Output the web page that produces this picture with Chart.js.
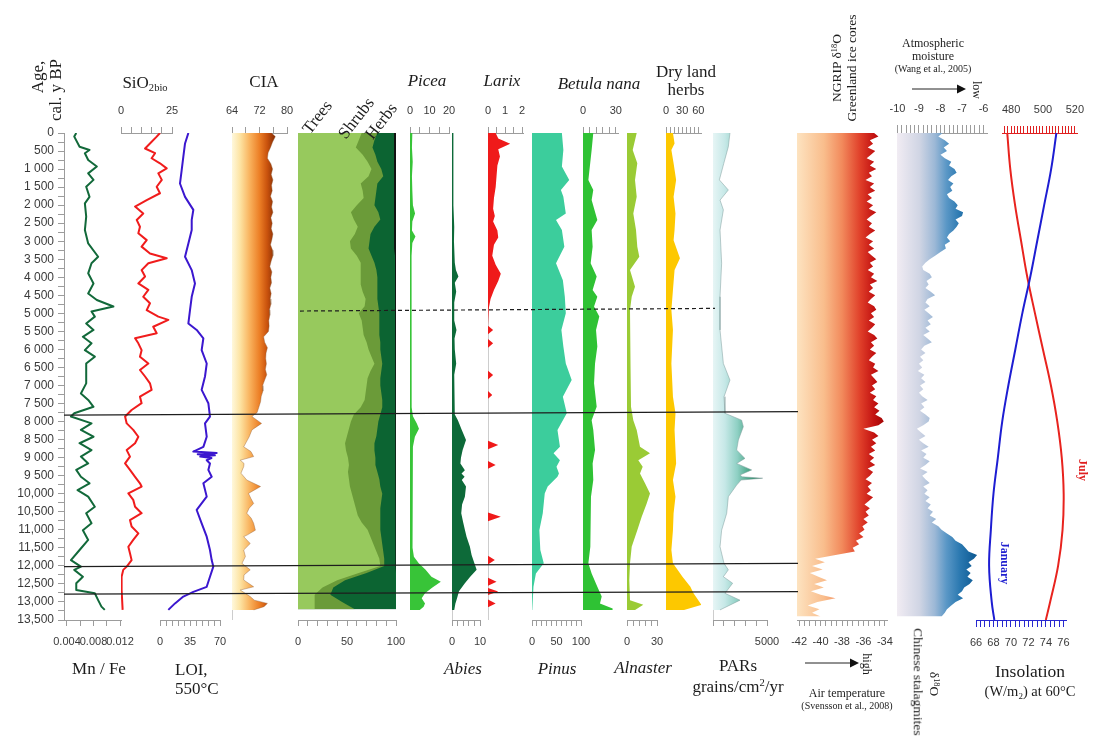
<!DOCTYPE html>
<html lang="en">
<head>
<meta charset="utf-8">
<title>Lake sediment, pollen and palaeoclimate records, 0–13.5 ka</title>
<script src="https://cdn.jsdelivr.net/npm/chart.js@4.4.1/dist/chart.umd.min.js"></script>
<style>
  html, body { margin: 0; padding: 0; background: #fff; }
  #stage { position: relative; width: 1093px; height: 738px; overflow: hidden; background: #fff; }
  #stage canvas { position: absolute; left: 0; top: 0; }
  .lbl { position: absolute; white-space: nowrap; line-height: 1; color: #1c1c1c;
         font-family: "Liberation Serif", "Times New Roman", serif; }
  .lbl sub { font-size: 0.62em; vertical-align: -0.35em; line-height: 0; }
  .lbl sup { font-size: 0.62em; vertical-align: 0.55em; line-height: 0; }
  svg.marks { position: absolute; left: 0; top: 0; }
</style>
</head>
<body>
<div id="stage"></div>
<script>
// ---------------------------------------------------------------------------
// Records (ages in cal. yr BP)
// ---------------------------------------------------------------------------
const MNFE_AGE = [0,100,380,470,560,750,930,1120,1300,1490,1770,1950,2320,2690,3060,3430,3610,3890,4170,4450,4630,4810,4950,5090,5280,5460,5650,5830,6020,6200,6390,6570,6940,7220,7400,7590,7770,7860,8050,8230,8420,8600,8790,8970,9160,9340,9530,9710,9900,10080,10360,10540,10820,11010,11280,11560,11840,12020,12110,12300,12480,12670,12760,12950,13130,13220];
const MNFE = [0.0054,0.0051,0.0059,0.0074,0.0067,0.0072,0.0085,0.0072,0.0080,0.0069,0.0074,0.0067,0.0069,0.0067,0.0072,0.0087,0.0077,0.0072,0.0080,0.0072,0.0085,0.0110,0.0077,0.0082,0.0069,0.0080,0.0064,0.0077,0.0067,0.0082,0.0069,0.0069,0.0069,0.0061,0.0072,0.0080,0.0051,0.0046,0.0077,0.0061,0.0080,0.0059,0.0077,0.0061,0.0072,0.0054,0.0061,0.0074,0.0056,0.0072,0.0082,0.0069,0.0077,0.0064,0.0072,0.0059,0.0046,0.0061,0.0051,0.0064,0.0054,0.0054,0.0082,0.0087,0.0092,0.0097];

const SIO2_AGE = [0,100,290,430,560,700,840,980,1120,1300,1490,1670,1860,2040,2230,2410,2600,2780,2970,3150,3340,3470,3610,3800,3980,4170,4350,4540,4720,4910,5090,5180,5370,5550,5690,5830,6020,6200,6390,6570,6750,6940,7120,7310,7490,7680,7860,8050,8230,8420,8600,8790,8970,9160,9340,9530,9710,9800,9990,10170,10360,10540,10730,10910,11100,11280,11470,11650,11840,12020,12110,12300,12670,13220];
const SIO2 = [19.1,17.5,14.2,11.8,16.7,15.0,19.1,22.4,18.3,20.0,17.5,19.1,12.6,6.9,10.9,7.7,9.3,8.5,12.6,10.1,14.2,22.4,13.4,10.1,11.8,8.5,13.4,10.9,14.2,12.6,18.3,23.2,15.8,17.5,6.9,8.5,10.1,9.3,13.4,9.3,11.8,14.2,15.0,9.3,10.1,5.2,2.0,2.8,6.0,8.5,6.9,2.8,4.4,2.0,4.4,6.9,9.3,10.1,3.6,6.0,6.9,10.1,4.4,5.2,8.5,6.0,3.6,4.4,5.2,2.8,1.1,0.3,0.3,0.8];

const LOI_AGE = [0,290,660,1030,1400,1770,2130,2410,2690,3060,3430,3800,4170,4540,4910,5280,5460,5690,6020,6390,6750,7120,7490,7860,8050,8420,8700,8830,8870,8905,8935,8970,9010,9070,9160,9340,9530,9710,10080,10450,10820,11190,11560,11840,12020,12300,12580,12720,12850,13040,13220];
const LOI = [33.1,29.2,27.2,25.3,23.3,29.2,38.9,37.0,37.0,33.1,29.2,37.0,40.8,37.0,35.0,33.1,42.8,50.6,48.6,54.5,52.5,48.6,56.4,58.3,52.5,54.5,50.6,38.9,66.1,44.0,64.0,47.0,60.0,54.5,58.3,56.4,60.3,50.6,54.5,42.8,48.6,54.5,58.3,60.3,62.2,58.3,54.5,38.9,27.2,17.5,9.7];

const CIA_AGE = [0,100,250,400,550,700,850,1000,1150,1300,1450,1600,1750,1900,2050,2200,2350,2500,2650,2800,2950,3100,3250,3400,3550,3700,3850,4000,4150,4300,4450,4600,4750,4900,5050,5200,5350,5500,5650,5800,5950,6100,6250,6400,6550,6700,6850,7000,7150,7300,7450,7600,7750,7860,8050,8230,8420,8700,8830,8970,9070,9160,9250,9430,9620,9800,9990,10130,10270,10400,10540,10680,10820,11010,11140,11190,11380,11560,11740,11930,12110,12250,12390,12580,12670,12850,12950,13040,13130,13220];
const CIA = [75.5,76.6,75.8,75.2,74.5,74.3,75.3,75.8,75.4,75.9,75.5,75.7,75.2,75.8,75.5,75.9,75.3,75.7,75.4,75.9,75.6,75.2,75.8,75.9,75.4,75.0,75.6,75.3,75.5,75.0,75.4,75.1,75.3,74.9,75.0,74.7,74.8,74.6,73.2,73.5,74.3,73.9,73.8,74.0,73.7,74.1,73.5,72.9,73.0,72.5,72.3,71.8,71.3,69.8,72.6,69.8,69.0,67.4,69.5,70.3,66.4,67.5,67.4,66.6,68.3,72.3,68.8,69.5,70.3,69.0,68.3,69.6,70.3,70.8,68.5,67.4,69.3,67.4,67.9,66.9,69.3,67.5,67.4,70.3,66.4,69.3,70.5,74.3,73.3,70.3];

// Pollen groups, % of total pollen
const GROUP_AGE = [0,200,400,600,800,1000,1200,1400,1600,1800,2000,2200,2400,2600,2800,3000,3200,3400,3600,3800,4000,4200,4400,4600,4800,5000,5200,5400,5600,5800,6000,6200,6400,6600,6800,7000,7200,7400,7600,7800,8000,8200,8400,8600,8800,9000,9200,9400,9600,9800,10000,10200,10400,10600,10800,11000,11200,11400,11600,11800,12000,12200,12400,12600,12800,13000,13200];
const TREES = [65,62,59,66,71,75,72,64,66,67,60,54,57,61,58,53,54,60,64,64,64,64,66,69,68,62,65,66,67,70,72,75,78,74,71,70,69,68,64,57,54,52,50,48,49,51,52,51,52,53,55,57,59,61,65,71,74,77,80,83,84,62,40,25,17,17,17];
const SHRUBS = [16,16,17,13,10,10,15,17,14,12,18,28,27,17,16,20,18,15,14,16,17,17,15,12,14,21,18,17,16,14,12,10,8,11,13,14,16,18,22,27,28,29,30,30,29,28,27,30,31,31,31,28,25,23,19,13,11,9,7,5,4,8,8,11,16,28,41];
const OTHER = [2,2,2,2,2,2,2,2,2,2,2,2,2,2,2,1.5,1.5,1,1,1,1,1,0.5,0.5,0.5,0.5,0.5,0.5,0.5,0.5,0.5,0.5,0.5,0.5,0.5,0.5,0.5,0.5,0.5,0.5,0.5,0.5,0.5,0.5,0.5,0.5,0.5,0.5,0.5,0.5,0.5,0.5,0.5,0.5,0.5,0.5,0.5,0.5,0.5,0.5,0.3,0,0,0,0,0,0];

// Individual taxa, %
const PICEA_AGE = [0,400,800,1200,1600,2000,2230,2450,2700,2870,3050,3400,4000,5000,6000,7000,7600,7850,8050,8200,8420,8700,9200,10000,11000,11500,11750,11930,12110,12300,12440,12600,12760,12900,13040,13130,13220];
const PICEA = [1.2,1.0,1.4,1.0,1.2,1.5,2.6,1.2,1.0,2.8,1.2,0.8,0.9,0.8,0.9,0.8,0.9,1.5,3.5,4.6,2.5,1.5,1.2,1.3,1.2,1.5,2.0,4.5,8.0,11.0,15.8,11.5,7.7,6.0,7.7,7.0,5.0];

const ABIES_AGE = [0,1000,2000,2600,3000,3600,3800,3980,4150,4400,4700,5200,5460,5700,6000,6400,6700,7300,7800,7960,8230,8510,8700,8790,9000,9160,9350,9440,9530,9620,9800,10080,10300,10540,10800,11000,11190,11470,11700,11930,12110,12300,12480,12700,12900,13050,13220];
const ABIES = [0.5,0.5,0.5,0.8,0.7,1.0,1.4,2.3,1.0,1.5,0.8,0.8,1.6,0.9,1.0,1.5,0.8,1.0,1.0,2.1,3.5,5.0,4.2,3.8,3.2,3.0,4.6,3.4,4.5,3.5,5.0,4.6,3.6,3.3,4.0,4.6,5.2,6.4,7.0,8.0,8.8,6.5,4.6,2.5,1.8,1.2,0.8];

const LARIX_AGE = [0,150,300,450,650,900,1200,1500,1800,2100,2300,2450,2700,2900,3100,3400,3650,3900,4100,4350,4600,4850,4950,5340,5460,5580,5710,5830,5950,6590,6710,6830,7150,7260,7370,8530,8650,8770,9090,9200,9310,10520,10640,10760,11720,11840,11960,12330,12440,12550,12610,12710,12810,12930,13040,13150];
const LARIX = [0.45,0.6,1.3,0.6,0.7,0.55,0.5,0.45,0.35,0.3,0.4,0.3,0.55,0.6,0.35,0.25,0.45,0.75,0.6,0.35,0.15,0.05,0,0,0.3,0,0,0.3,0,0,0.3,0,0,0.25,0,0,0.6,0,0,0.45,0,0,0.75,0,0,0.4,0,0,0.5,0,0,0.6,0,0,0.45,0];

const PINUS_AGE = [0,470,930,1300,1580,1770,2230,2410,2690,3150,3610,4080,4540,5000,5460,5920,6390,6850,7310,7770,8230,8700,8880,9070,9250,9440,9530,9800,9990,10540,11010,11560,11930,12210,12580,13220];
const PINUS = [61,64,61,76,59,64,69,49,61,66,49,63,67,69,60,64,69,81,63,71,52,57,44,57,50,55,52,32,26,22,15,17,24,8,3,0.6];

const BETULA_AGE = [0,470,1300,1580,1860,2410,2690,3150,3610,3980,4350,4540,4810,5090,5460,5920,6390,6940,7590,7960,8230,8790,9160,9620,10080,11010,11470,11930,12210,12580,12850,13040,13180,13220];
const BETULA = [9.4,7.9,4.9,9.4,7.9,13.1,7.9,8.8,7.0,12.5,8.8,13.1,10.1,14.9,11.9,13.1,11.0,10.1,12.5,7.9,9.4,11.0,8.8,9.4,7.3,6.4,7.0,4.9,7.9,13.1,17.1,15.5,27.1,27.0];

const ALNASTER_AGE = [0,470,840,1300,1770,2230,2690,3150,3430,3800,4260,4540,4910,5460,6390,7590,7960,8230,8700,8880,9070,9250,9440,9710,9990,10270,10640,11010,11470,11930,12390,12950,13080,13220];
const ALNASTER = [9.7,5.7,10.3,8.0,9.7,6.3,9.0,10.3,12.3,3.0,8.0,4.7,3.0,3.5,3.5,4.0,6.3,9.7,13.0,23.0,11.3,15.7,13.0,18.0,23.0,19.7,14.7,10.3,4.7,3.0,2.3,3.0,16.3,8.0];

const DRYHERBS_AGE = [0,290,470,840,1300,1770,2230,2690,2970,3470,3800,4350,4910,5460,6390,7310,7770,8230,9160,9620,10080,10540,11010,11560,11930,12300,12580,12760,12950,13080,13220];
const DRYHERBS = [12.9,15.9,10,14.1,18.8,14.1,17.6,15.9,14.1,25.9,15.9,12.9,10,12.9,10,12.9,17.6,15.9,18.8,12.9,17.6,14.1,12.9,10,12.9,30.6,45.3,51.1,60,65.8,33.5];

// Pollen accumulation rates, grains/cm2/yr
const PARS_AGE = [0,380,840,1300,1580,1860,2130,2690,3610,4540,5460,6390,6850,7310,7770,7960,8140,8510,8790,9020,9160,9340,9480,9530,9570,9620,9760,10080,10540,11010,11470,11930,12110,12300,12480,12760,12950,13220];
const PARS = [1570,1420,1000,590,1420,650,960,650,800,650,650,960,1570,1020,1110,2650,2810,2350,2190,2960,2190,3580,2500,2700,4600,2600,2190,1420,1270,800,650,1020,1420,960,1820,1110,2500,650];

// Ice-core and speleothem records, 100-yr resolution
const RECORD_AGE = [0,100,200,300,400,500,600,700,800,900,1000,1100,1200,1300,1400,1500,1600,1700,1800,1900,2000,2100,2200,2300,2400,2500,2600,2700,2800,2900,3000,3100,3200,3300,3400,3500,3600,3700,3800,3900,4000,4100,4200,4300,4400,4500,4600,4700,4800,4900,5000,5100,5200,5300,5400,5500,5600,5700,5800,5900,6000,6100,6200,6300,6400,6500,6600,6700,6800,6900,7000,7100,7200,7300,7400,7500,7600,7700,7800,7900,8000,8100,8200,8300,8400,8500,8600,8700,8800,8900,9000,9100,9200,9300,9400,9500,9600,9700,9800,9900,10000,10100,10200,10300,10400,10500,10600,10700,10800,10900,11000,11100,11200,11300,11400,11500,11600,11700,11800,11900,12000,12100,12200,12300,12400,12500,12600,12700,12800,12900,13000,13100,13200,13300,13400];
const NGRIP_D18O = [-35.0,-34.6,-35.4,-35.1,-35.6,-34.9,-35.3,-35.7,-35.0,-35.4,-34.8,-35.5,-35.2,-35.8,-35.0,-35.4,-34.9,-35.6,-35.2,-35.7,-35.1,-35.5,-34.8,-35.3,-35.7,-35.2,-35.5,-34.9,-35.4,-35.8,-35.1,-35.5,-35.0,-35.6,-35.2,-34.8,-35.4,-35.1,-35.6,-35.0,-35.3,-34.7,-35.4,-35.1,-35.5,-34.9,-35.3,-35.6,-35.0,-34.8,-35.3,-35.0,-35.5,-34.9,-35.2,-35.6,-35.0,-34.7,-35.3,-35.0,-35.4,-34.8,-35.2,-35.5,-34.9,-35.1,-34.6,-35.3,-35.0,-34.7,-35.2,-34.9,-35.4,-34.8,-35.1,-34.6,-35.0,-34.5,-34.9,-34.3,-34.1,-34.6,-36.0,-35.0,-34.6,-35.2,-34.8,-35.3,-34.9,-35.5,-35.0,-35.4,-34.9,-35.6,-35.1,-35.4,-35.8,-35.2,-35.6,-35.3,-35.7,-35.1,-35.5,-35.9,-35.4,-35.8,-35.5,-36.0,-35.6,-36.1,-35.9,-36.4,-36.0,-36.7,-36.4,-37.0,-36.8,-38.6,-40.5,-39.6,-40.8,-39.8,-41.0,-40.2,-39.4,-40.6,-39.7,-40.9,-40.0,-38.6,-40.3,-41.2,-40.1,-40.8,-40.0];
const STALAGMITE_D18O = [-7.9,-8.1,-7.8,-7.6,-7.85,-7.7,-8.0,-7.8,-7.5,-7.6,-7.35,-7.25,-7.5,-7.65,-7.4,-7.55,-7.45,-7.7,-7.6,-7.35,-7.2,-7.3,-6.95,-7.0,-7.3,-7.15,-7.25,-7.4,-7.6,-7.7,-7.55,-7.8,-7.75,-8.0,-8.25,-8.5,-8.7,-8.85,-8.8,-8.5,-8.4,-8.65,-8.55,-8.7,-8.45,-8.25,-8.6,-8.7,-8.5,-8.75,-8.55,-8.35,-8.6,-8.45,-8.7,-8.5,-8.8,-8.6,-8.4,-8.75,-8.9,-8.7,-8.95,-8.8,-9.0,-8.85,-9.05,-8.75,-8.9,-8.7,-8.95,-8.8,-9.0,-8.85,-8.6,-8.9,-8.75,-8.95,-8.7,-8.5,-8.55,-8.8,-9.1,-8.9,-8.7,-9.0,-8.8,-8.55,-8.9,-8.65,-8.8,-8.5,-8.7,-8.95,-8.6,-8.85,-8.7,-8.5,-8.8,-8.6,-8.75,-8.5,-8.7,-8.45,-8.6,-8.35,-8.5,-8.2,-8.4,-8.1,-7.95,-7.7,-7.45,-7.3,-7.0,-6.85,-6.7,-6.3,-6.45,-6.7,-6.55,-6.8,-6.6,-6.75,-6.5,-6.65,-6.9,-7.0,-7.2,-6.95,-7.3,-7.5,-7.7,-7.8,-7.95];

// Insolation at 60°N, W/m2
const INSOLATION_AGE = [0,1000,2000,3000,4000,5000,6000,7000,8000,9000,10000,11000,12000,13000,13500];
const JULY = [477.6,479.5,482.5,486.3,490.2,495.0,500.0,505.0,509.0,511.8,513.0,512.3,509.5,504.5,501.8];
const JANUARY = [75.2,74.6,73.8,73.0,72.2,71.3,70.5,69.7,69.0,68.5,68.0,67.7,67.5,67.8,68.1];

// Zone boundaries (age at the left end, age at the right end)
const ZONE_BOUNDARIES = [[7820, 7725], [12020, 11930], [12780, 12715]];
const SUBZONE_BOUNDARY = [4935, 4862];

// ---------------------------------------------------------------------------
// Drawing
// ---------------------------------------------------------------------------
const SANS = '"Liberation Sans", Arial, sans-serif';
Chart.defaults.font.family = SANS;

const stage = document.getElementById('stage');
const W = 1093, H = 738, TOP = 133, BOTTOM = 620, AXIS_BOX = 40;

const pts = (ages, vals) => ages.map((a, i) => ({ x: vals[i], y: a }));
const round6 = v => Math.round(v * 1e6) / 1e6;
function stepTicks(from, to, step) {
  const out = [];
  const n = Math.round((to - from) / step);
  for (let i = 0; i <= n; i++) out.push({ value: round6(from + i * step) });
  return out;
}
function ageLabel(v) {
  if (v < 1000) return String(v);
  if (v < 10000) return Math.floor(v / 1000) + ' ' + String(v % 1000).padStart(3, '0');
  return v.toLocaleString('en-US');
}
function hGradient(stops) {
  return c => {
    const area = c.chart.chartArea;
    if (!area) return stops[stops.length - 1][1];
    const g = c.chart.ctx.createLinearGradient(area.left, 0, area.right, 0);
    stops.forEach(([p, col]) => g.addColorStop(p, col));
    return g;
  };
}
const curve = (ages, vals, color, width) => ({
  data: pts(ages, vals), borderColor: color, borderWidth: width, fill: false, pointRadius: 0
});
const area = (ages, vals, base, color, edge, order) => ({
  data: pts(ages, vals), backgroundColor: color,
  borderColor: edge || 'rgba(0,0,0,0)', borderWidth: edge ? 0.7 : 0,
  fill: { value: base }, pointRadius: 0, order: order || 0
});

function panel(o) {
  const cv = document.createElement('canvas');
  cv.width = W; cv.height = H;
  stage.appendChild(cv);
  const ax = o.axis || null;
  const pos = ax ? ax.position : 'bottom';
  const padding = {
    left: o.ageAxis ? 0 : o.left,
    right: W - o.right,
    top: ax && pos === 'top' ? TOP - AXIS_BOX : TOP,
    bottom: ax && pos === 'bottom' ? H - BOTTOM - AXIS_BOX : H - BOTTOM
  };
  const axisColor = (ax && ax.color) || '#9c9c9c';
  const labels = (ax && ax.labels) || [];
  const x = {
    type: 'linear', display: !!ax, position: pos, bounds: 'data',
    min: o.min, max: o.max,
    afterFit: s => { if (ax) s.height = AXIS_BOX; },
    afterBuildTicks: s => { if (ax) s.ticks = stepTicks(ax.from, ax.to, ax.step); },
    border: { display: !!ax, color: axisColor, width: 1 },
    grid: {
      drawOnChartArea: !!o.baseline, drawTicks: !!ax,
      tickLength: (ax && ax.tickLength) || 6, tickColor: axisColor,
      color: c => (o.baseline && c.tick && Math.abs(c.tick.value - o.min) < 1e-9) ? '#cdcdcd' : 'rgba(0,0,0,0)'
    },
    ticks: {
      display: !!ax, autoSkip: false, maxRotation: 0, minRotation: 0,
      padding: (ax && ax.padding) || 9, color: '#3a3a3a',
      font: { size: (ax && ax.fontSize) || 11 },
      callback: v => labels.some(l => Math.abs(l - v) < 1e-6) ? (ax.fmt ? ax.fmt(v) : String(v)) : ''
    }
  };
  const y = {
    type: 'linear', reverse: true, min: 0, max: 13500, bounds: 'data',
    display: !!o.ageAxis, position: 'left',
    afterFit: s => { if (o.ageAxis) s.width = o.left; },
    afterBuildTicks: s => { s.ticks = stepTicks(0, 13500, 250); },
    border: { display: true, color: '#9c9c9c', width: 1 },
    grid: { drawOnChartArea: false, tickLength: 6, tickColor: '#9c9c9c', color: '#9c9c9c' },
    ticks: { autoSkip: false, padding: 4, color: '#3a3a3a', font: { size: 12 },
             callback: v => (v % 500 === 0 ? ageLabel(v) : '') }
  };
  return new Chart(cv, {
    type: 'line',
    data: { datasets: o.datasets },
    options: {
      responsive: false, animation: false, events: [], indexAxis: 'y',
      layout: { padding },
      plugins: { legend: { display: false }, tooltip: { enabled: false } },
      elements: { point: { radius: 0, hitRadius: 0 }, line: { tension: 0, borderJoinStyle: 'round' } },
      scales: { x, y }
    }
  });
}

// Mn/Fe, with the shared age axis
panel({ ageAxis: true, left: 64, right: 121, min: 0.00355, max: 0.01215,
  axis: { position: 'bottom', from: 0.004, to: 0.012, step: 0.002, labels: [0.004, 0.008, 0.012], fmt: v => v.toFixed(3) },
  datasets: [curve(MNFE_AGE, MNFE, '#12693a', 2)] });

// Biogenic silica
panel({ left: 121, right: 172, min: 0, max: 25,
  axis: { position: 'top', from: 0, to: 25, step: 5, labels: [0, 25] },
  datasets: [curve(SIO2_AGE, SIO2, '#f01c1c', 2)] });

// Loss on ignition
panel({ left: 160, right: 220, min: 0, max: 70,
  axis: { position: 'bottom', from: 0, to: 70, step: 7, labels: [0, 35, 70] },
  datasets: [curve(LOI_AGE, LOI, '#3b17cf', 2)] });

// Chemical index of alteration
panel({ left: 232, right: 287, min: 64, max: 80, baseline: true,
  axis: { position: 'top', from: 64, to: 80, step: 4, labels: [64, 72, 80] },
  datasets: [area(CIA_AGE, CIA, 64,
    hGradient([[0, '#fff8dc'], [0.15, '#fde3a2'], [0.32, '#f9b35e'], [0.5, '#ec7f26'], [0.64, '#c9520d'], [0.76, '#913306'], [1, '#561800']]),
    'rgba(140,90,50,0.55)')] });

// Trees / shrubs / herbs summary
const shrubEdge = TREES.map((t, i) => t + SHRUBS[i]);
const herbEdge = OTHER.map(v => 100 - v);
const fullEdge = OTHER.map(() => 100);
panel({ left: 298, right: 396, min: 0, max: 100,
  axis: { position: 'bottom', from: 0, to: 100, step: 10, labels: [0, 50, 100] },
  datasets: [
    area(GROUP_AGE, TREES, 0, '#97c95d', null, 1),
    area(GROUP_AGE, shrubEdge, 0, '#6b9b39', null, 2),
    area(GROUP_AGE, herbEdge, 0, '#0c6432', null, 3),
    area(GROUP_AGE, fullEdge, 0, '#111111', null, 4)
  ] });

// Taxa
panel({ left: 410, right: 449, min: 0, max: 20,
  axis: { position: 'top', from: 0, to: 20, step: 5, labels: [0, 10, 20] },
  datasets: [area(PICEA_AGE, PICEA, 0, '#38c438')] });
panel({ left: 452, right: 480, min: 0, max: 10, baseline: true,
  axis: { position: 'bottom', from: 0, to: 10, step: 2, labels: [0, 10] },
  datasets: [area(ABIES_AGE, ABIES, 0, '#0d6a39')] });
panel({ left: 488, right: 523, min: 0, max: 2.05, baseline: true,
  axis: { position: 'top', from: 0, to: 2, step: 0.5, labels: [0, 1, 2] },
  datasets: [area(LARIX_AGE, LARIX, 0, '#ef1a1a')] });
panel({ left: 532, right: 581, min: 0, max: 100,
  axis: { position: 'bottom', from: 0, to: 100, step: 10, labels: [0, 50, 100] },
  datasets: [area(PINUS_AGE, PINUS, 0, '#3ccd9c')] });
panel({ left: 583, right: 618, min: 0, max: 32,
  axis: { position: 'top', from: 0, to: 30, step: 6, labels: [0, 30] },
  datasets: [area(BETULA_AGE, BETULA, 0, '#2fc234')] });
panel({ left: 627, right: 657, min: 0, max: 30,
  axis: { position: 'bottom', from: 0, to: 30, step: 6, labels: [0, 30] },
  datasets: [area(ALNASTER_AGE, ALNASTER, 0, '#9acb35')] });
panel({ left: 666, right: 701, min: 0, max: 65,
  axis: { position: 'top', from: 0, to: 60, step: 7.5, labels: [0, 30, 60] },
  datasets: [area(DRYHERBS_AGE, DRYHERBS, 0, '#fdc800')] });
panel({ left: 713, right: 767, min: 0, max: 5000, baseline: true,
  axis: { position: 'bottom', from: 0, to: 5000, step: 1000, labels: [5000] },
  datasets: [area(PARS_AGE, PARS, 0,
    hGradient([[0, '#e6f5f5'], [0.22, '#c6e8e7'], [0.45, '#8fd0c4'], [0.7, '#3f9f7c'], [1, '#0a5c31']]),
    'rgba(130,160,160,0.75)')] });

// NGRIP d18O
panel({ left: 797, right: 887, min: -42.2, max: -33.8,
  axis: { position: 'bottom', from: -42, to: -34, step: 0.5, labels: [-42, -40, -38, -36, -34] },
  datasets: [area(RECORD_AGE, NGRIP_D18O, -42.2,
    hGradient([[0, '#fde3c0'], [0.3, '#f9bd8c'], [0.5, '#f28a5c'], [0.7, '#e0402a'], [0.85, '#c41412'], [1, '#9a0000']]))] });

// Chinese stalagmite d18O
panel({ left: 897, right: 987, min: -10.02, max: -5.84,
  axis: { position: 'top', from: -10, to: -6, step: 0.2, labels: [-10, -9, -8, -7, -6], tickLength: 8 },
  datasets: [area(RECORD_AGE, STALAGMITE_D18O, -10.02,
    hGradient([[0, '#f1ecf3'], [0.25, '#d0d5e4'], [0.42, '#9cb8d6'], [0.55, '#5a97c6'], [0.7, '#2a78b0'], [0.85, '#125f98'], [1, '#0a4a80']]))] });

// Insolation, July (upper axis) and January (lower axis)
panel({ left: 1002, right: 1093, min: 474.3, max: 521.6,
  axis: { position: 'top', from: 476, to: 520, step: 2, labels: [480, 500, 520], color: '#e02020', tickLength: 7 },
  datasets: [{ ...curve(INSOLATION_AGE, JULY, '#e8231e', 2), tension: 0.4 }] });
panel({ left: 976, right: 1066, min: 66, max: 76.3,
  axis: { position: 'bottom', from: 66, to: 76, step: 0.5, labels: [66, 68, 70, 72, 74, 76], color: '#2828d0', tickLength: 7 },
  datasets: [{ ...curve(INSOLATION_AGE, JANUARY, '#1d1dd2', 2), tension: 0.4 }] });

// Zone boundaries across the sediment and pollen columns
panel({ left: 64, right: 798, min: 0, max: 1,
  datasets: ZONE_BOUNDARIES.map(([a, b]) => ({
    data: [{ x: 0, y: a }, { x: 1, y: b }], borderColor: '#1e1e1e', borderWidth: 1.2, fill: false, pointRadius: 0 })) });
panel({ left: 300, right: 715, min: 0, max: 1,
  datasets: [{ data: [{ x: 0, y: SUBZONE_BOUNDARY[0] }, { x: 1, y: SUBZONE_BOUNDARY[1] }],
    borderColor: '#1e1e1e', borderWidth: 1.2, borderDash: [4, 3], fill: false, pointRadius: 0 }] });

// ---------------------------------------------------------------------------
// Titles and annotations
// ---------------------------------------------------------------------------
const TEXTS = [
  { html: 'Age,', x: 37, y: 77, size: 17, rot: -90 },
  { html: 'cal. y BP', x: 55, y: 90, size: 17, rot: -90 },
  { html: 'SiO<sub>2bio</sub>', x: 145, y: 82, size: 17 },
  { html: 'CIA', x: 264, y: 81, size: 17 },
  { html: 'Trees', x: 317, y: 117, size: 17, rot: -52 },
  { html: 'Shrubs', x: 356, y: 118, size: 17, rot: -52 },
  { html: 'Herbs', x: 381, y: 121, size: 17, rot: -52 },
  { html: 'Picea', x: 427, y: 80, size: 17, italic: true },
  { html: 'Larix', x: 502, y: 80, size: 17, italic: true },
  { html: 'Betula nana', x: 599, y: 83, size: 17, italic: true },
  { html: 'Dry land', x: 686, y: 71, size: 17 },
  { html: 'herbs', x: 686, y: 89, size: 17 },
  { html: 'NGRIP δ<sup>18</sup>O', x: 837, y: 68, size: 13.5, rot: -90 },
  { html: 'Greenland ice cores', x: 852, y: 68, size: 13.5, rot: -90 },
  { html: 'Atmospheric', x: 933, y: 43, size: 12 },
  { html: 'moisture', x: 933, y: 56, size: 12 },
  { html: '(Wang et al., 2005)', x: 933, y: 69, size: 10 },
  { html: 'low', x: 977, y: 90, size: 12, rot: 90 },
  { html: 'Mn / Fe', x: 99, y: 668, size: 17 },
  { html: 'LOI,', x: 175, y: 669, size: 17, align: 'left' },
  { html: '550°C', x: 175, y: 688, size: 17, align: 'left' },
  { html: 'Abies', x: 463, y: 668, size: 17, italic: true },
  { html: 'Pinus', x: 557, y: 668, size: 17, italic: true },
  { html: 'Alnaster', x: 643, y: 667, size: 17, italic: true },
  { html: 'PARs', x: 738, y: 665, size: 17 },
  { html: 'grains/cm<sup>2</sup>/yr', x: 738, y: 686, size: 17 },
  { html: 'high', x: 867, y: 664, size: 12, rot: 90 },
  { html: 'Air temperature', x: 847, y: 693, size: 12 },
  { html: '(Svensson et al., 2008)', x: 847, y: 706, size: 10 },
  { html: 'δ<sup>18</sup>O', x: 934, y: 684, size: 13.5, rot: 90 },
  { html: 'Chinese stalagmites', x: 918, y: 682, size: 13.5, rot: 90 },
  { html: 'Insolation', x: 1030, y: 672, size: 17.5 },
  { html: '(W/m<sub>2</sub>) at 60°C', x: 1030, y: 691, size: 14.5 },
  { html: 'July', x: 1083, y: 470, size: 12, rot: 90, bold: true, color: '#e02020' },
  { html: 'January', x: 1005, y: 563, size: 12, rot: 90, bold: true, color: '#2020d0' }
];
TEXTS.forEach(t => {
  const d = document.createElement('div');
  d.className = 'lbl';
  d.innerHTML = t.html;
  d.style.left = t.x + 'px';
  d.style.top = t.y + 'px';
  d.style.fontSize = t.size + 'px';
  if (t.italic) d.style.fontStyle = 'italic';
  if (t.bold) d.style.fontWeight = 'bold';
  if (t.color) d.style.color = t.color;
  const shift = t.align === 'left' ? 'translate(0,-50%)' : 'translate(-50%,-50%)';
  d.style.transform = shift + (t.rot ? ' rotate(' + t.rot + 'deg)' : '');
  stage.appendChild(d);
});

// Direction arrows beside the moisture and temperature scales
const svgNS = 'http://www.w3.org/2000/svg';
const svg = document.createElementNS(svgNS, 'svg');
svg.setAttribute('class', 'marks');
svg.setAttribute('width', W);
svg.setAttribute('height', H);
svg.innerHTML =
  '<line x1="912" y1="89" x2="958" y2="89" stroke="#222" stroke-width="1"/>' +
  '<polygon points="957,84.5 966,89 957,93.5" fill="#111"/>' +
  '<line x1="805" y1="663" x2="851" y2="663" stroke="#222" stroke-width="1"/>' +
  '<polygon points="850,658.5 859,663 850,667.5" fill="#111"/>';
stage.appendChild(svg);
</script>
</body>
</html>
